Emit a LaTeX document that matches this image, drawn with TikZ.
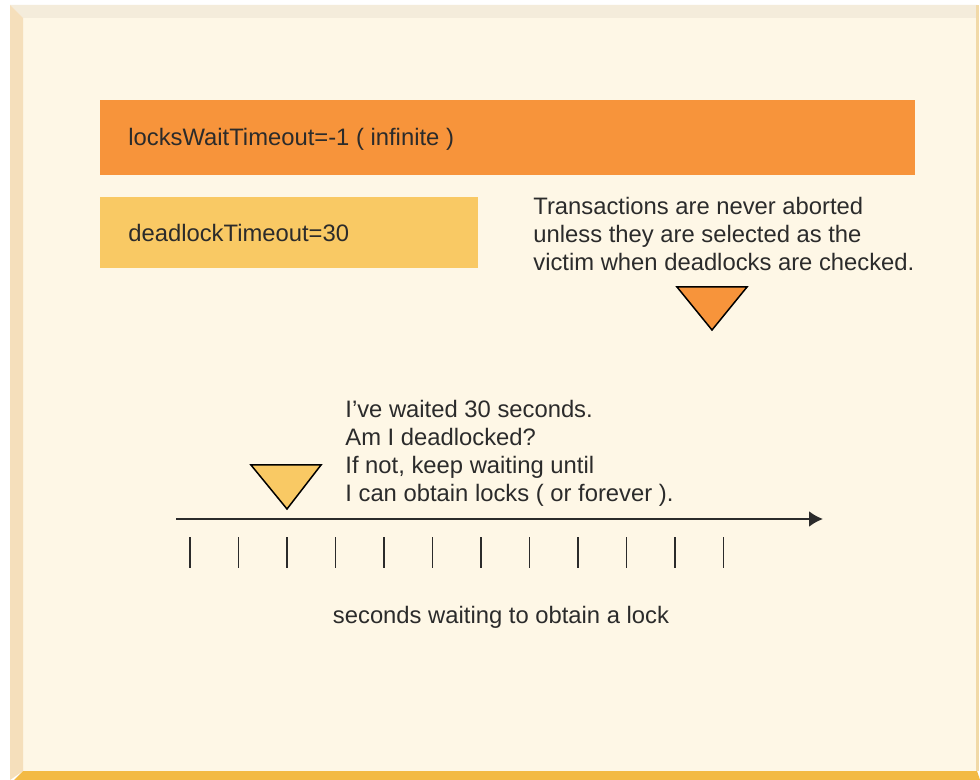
\documentclass[tikz,border=0pt]{standalone}
\usepackage{fontspec}
\setmainfont{Liberation Sans}
\usepackage{xcolor}
\usepackage{tikz}
\usetikzlibrary{calc}
\usetikzlibrary{positioning}
\usetikzlibrary{arrows.meta}

\definecolor{paper}{HTML}{FEF7E6}
\definecolor{edgetop}{HTML}{F4ECDB}
\definecolor{edgeleft}{HTML}{F5DFBB}
\definecolor{edgebottom}{HTML}{F3BA44}
\definecolor{edgeright}{HTML}{F1D9A8}
\definecolor{waitorange}{HTML}{F7943B}
\definecolor{deadyellow}{HTML}{F9C964}
\definecolor{inkgray}{HTML}{2B2B2B}

\tikzset{
	bartext/.style={anchor=base west,inner sep=0pt,text=inkgray,font=\fontsize{11.9}{14}\selectfont},
	notetext/.style={bartext,align=left},
	tick/.style={line width=0.8pt,inkgray},
}

\begin{document}
\begin{tikzpicture}[x=0.5pt,y=-0.5pt]
		\useasboundingbox (0,0) rectangle (980,780);
		\fill[white] (0,0) rectangle (980,780);
		% frame
		\fill[paper] (23,18) rectangle (977,771);
		\fill[edgetop] (10,5) -- (977,5) -- (977,18) -- (23,18) -- cycle;
		\fill[edgeleft] (10,5) -- (23,18) -- (23,771) -- (10,780) -- cycle;
		\fill[edgebottom] (23,771) -- (977,771) -- (980,780) -- (14,780) -- cycle;
		\fill[edgeright] (976,5) rectangle (979,771);
		% bars
		\node[fill=waitorange,inner sep=0pt,minimum width=407.5pt,minimum height=37.5pt,anchor=north west] (wait bar) at (100,100) {};
		\node[fill=deadyellow,inner sep=0pt,minimum width=189pt,minimum height=35.5pt,anchor=north west] (dead bar) at (100,197) {};
		\node[bartext] (wait text) at (128,146) {locksWaitTimeout=-1 ( infinite )};
		\node[bartext] (dead text) at (128,242) {deadlockTimeout=30};
		% notes (base = last line)
		\node[notetext] (victim note) at (533,271) {Transactions are never aborted\\unless they are selected as the\\victim when deadlocks are checked.};
		\node[notetext] (wait note) at (345,502) {I've waited 30 seconds.\\Am I deadlocked?\\If not, keep waiting until\\I can obtain locks ( or forever ).};
		% markers
		\filldraw[fill=waitorange,draw=black,line width=0.75pt,line join=miter] (677,287) -- (747,287) -- (712,330) -- cycle;
		\filldraw[fill=deadyellow,draw=black,line width=0.75pt,line join=miter] (251,465) -- (321,465) -- (287,509) -- cycle;
		% time axis
		\coordinate (axis start) at (176,519);
		\coordinate (axis end) at (823,519);
		\draw[-{Latex[length=7pt,width=8pt]},line width=1.1pt,inkgray] (axis start) -- (axis end);
		\foreach \i in {0,...,11}
			\draw[tick] ({190+48.5*\i},537) -- ({190+48.5*\i},568);
		\node[bartext,anchor=base] (axis label) at (501,623) {seconds waiting to obtain a lock};
	\end{tikzpicture}
\end{document}
